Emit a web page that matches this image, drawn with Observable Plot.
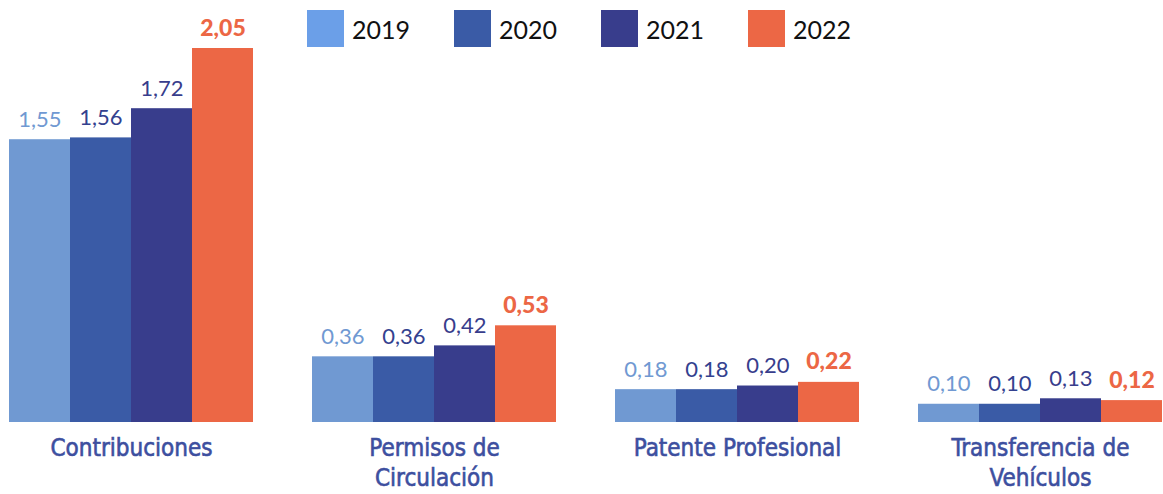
<!DOCTYPE html>
<html>
<head>
<meta charset="utf-8">
<script src="https://cdn.jsdelivr.net/npm/d3@7"></script>
<script src="https://cdn.jsdelivr.net/npm/@observablehq/plot@0.6"></script>
<style>
  html, body { margin: 0; padding: 0; background: #fff; }
  #wrap { position: relative; width: 1163px; height: 494px; }
  #legend { position: absolute; left: 307px; top: 10px; display: flex; font-family: "Lato", "DejaVu Sans", sans-serif; font-size: 25px; color: #111; }
  .item { display: flex; align-items: center; width: 147px; height: 37px; }
  .sw { width: 37px; height: 37px; margin-right: 8px; }
</style>
</head>
<body>
<div id="wrap"><div id="legend"></div></div>
<script>
const categories = ["Contribuciones", "Permisos de Circulación", "Patente Profesional", "Transferencia de Vehículos"];
const categoryLabels = ["Contribuciones", "Permisos de\nCirculación", "Patente Profesional", "Transferencia de\nVehículos"];
const years = ["2019", "2020", "2021", "2022"];
const v2019 = [1.55, 0.36, 0.18, 0.10];
const v2020 = [1.56, 0.36, 0.18, 0.10];
const v2021 = [1.72, 0.42, 0.20, 0.13];
const v2022 = [2.05, 0.53, 0.22, 0.12];
const barColors = ["#7099d2", "#3a5ba6", "#383d8c", "#ec6745"];
const labelColors = ["#7099d2", "#33418f", "#383d8c", "#ec6745"];
const legendColors = ["#6b9fe8", "#3a5ba6", "#383d8c", "#ec6745"];

const series = [v2019, v2020, v2021, v2022];
const data = [];
categories.forEach((c, i) => years.forEach((y, j) => data.push({category: c, year: y, value: series[j][i]})));

const fmt = v => v.toFixed(2).replace(".", ",");
const labelMap = new Map(categories.map((c, i) => [c, categoryLabels[i]]));

const chart = Plot.plot({
  width: 1163,
  height: 494,
  marginTop: 48,
  marginBottom: 72,
  marginLeft: 8,
  marginRight: 0,
  fx: {domain: categories, paddingInner: 0.194, paddingOuter: 0, label: null, axis: null},
  x: {domain: years, padding: 0, axis: null},
  y: {domain: [0, 2.05], axis: null},
  color: {domain: years, range: barColors},
  marks: [
    Plot.barY(data, {fx: "category", x: "year", y: "value", fill: "year"}),
    Plot.text(data.filter(d => d.year !== "2022"), {
      fx: "category", x: "year", y: "value", text: d => fmt(d.value),
      fill: d => labelColors[years.indexOf(d.year)], lineAnchor: "bottom", dy: -13,
      fontSize: 22, fontFamily: "Lato, 'DejaVu Sans', sans-serif"
    }),
    Plot.text(data.filter(d => d.year === "2022"), {
      fx: "category", x: "year", y: "value", text: d => fmt(d.value),
      fill: labelColors[3], lineAnchor: "bottom", dy: -13,
      fontSize: 23, fontWeight: 900, fontFamily: "Lato, 'DejaVu Sans', sans-serif"
    }),
    Plot.axisFx({
      anchor: "bottom", tickSize: 0, tickPadding: 12, label: null,
      tickFormat: c => labelMap.get(c), lineHeight: 1.25,
      fontSize: 24, color: "#3d4f9f", fill: "#3d4f9f",
      fontFamily: "'Liberation Sans Narrow', 'DejaVu Sans Condensed', sans-serif"
    })
  ]
});
chart.style.fontFamily = "'Liberation Sans Narrow', sans-serif";
chart.querySelectorAll("text").forEach(t => {
  if (t.closest("g[aria-label*='fx-axis']")) {
    t.style.stroke = "#3d4f9f";
    t.style.strokeWidth = "0.6px";
  }
});
document.getElementById("wrap").prepend(chart);

const legend = document.getElementById("legend");
years.forEach((y, i) => {
  const it = document.createElement("div");
  it.className = "item";
  const sw = document.createElement("div");
  sw.className = "sw";
  sw.style.background = legendColors[i];
  const tx = document.createElement("span");
  tx.textContent = y;
  it.appendChild(sw);
  it.appendChild(tx);
  legend.appendChild(it);
});
</script>
</body>
</html>
